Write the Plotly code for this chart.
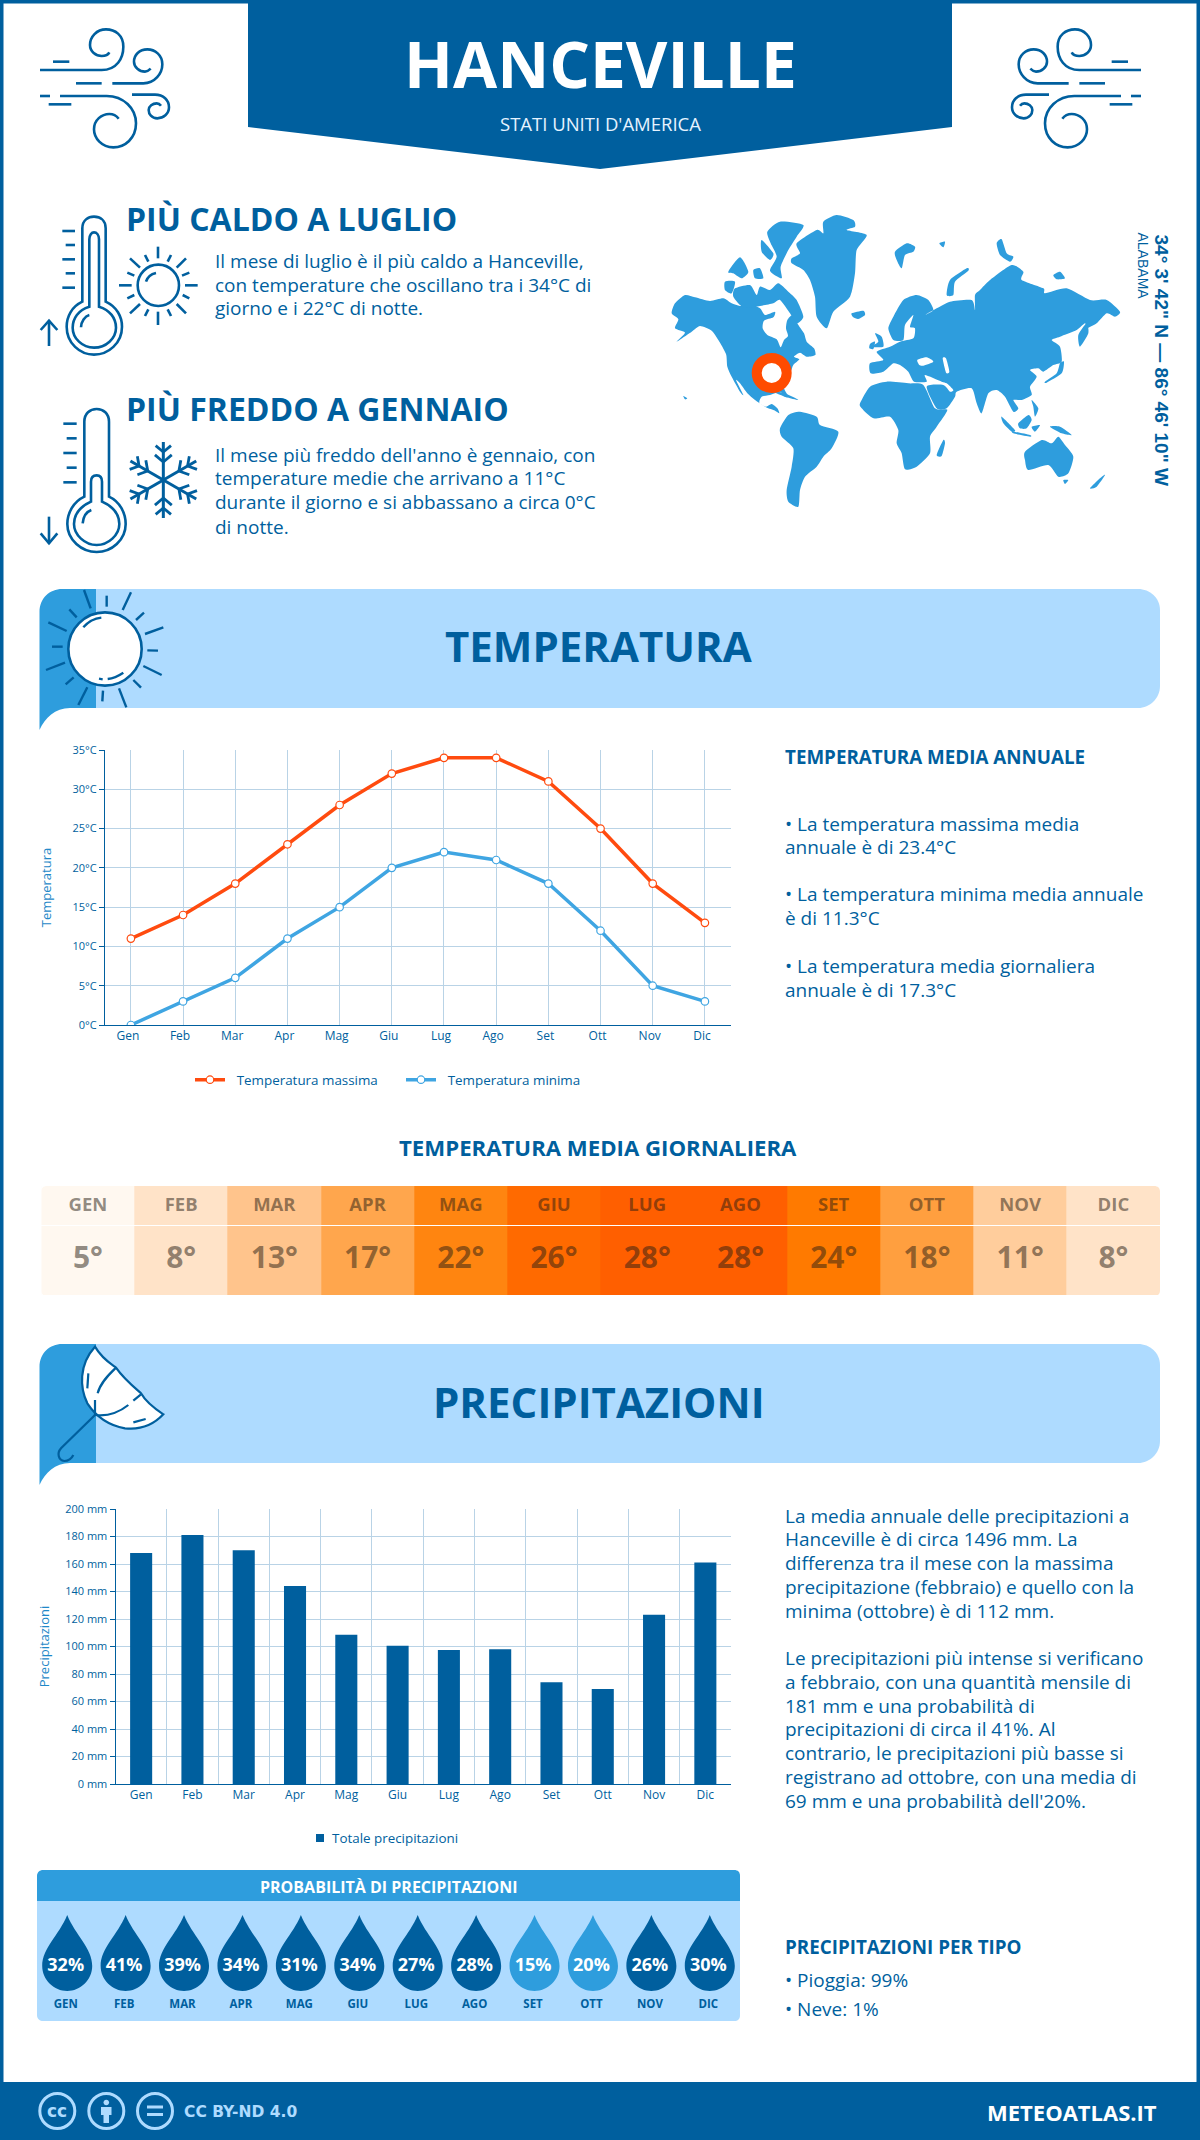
import math, re
import plotly.graph_objects as go

W, H = 1200, 2140
BLUE = "#005F9E"; MID = "#2E9DDD"; LIGHT = "#AEDBFF"; ORANGE = "#FF4B0F"; GRID = "#B9D3E6"

# ---------- data ----------
months = ["Gen","Feb","Mar","Apr","Mag","Giu","Lug","Ago","Set","Ott","Nov","Dic"]
months_up = ["GEN","FEB","MAR","APR","MAG","GIU","LUG","AGO","SET","OTT","NOV","DIC"]
temp_max = [11,14,18,23,28,32,34,34,31,25,18,13]
temp_min = [0,3,6,11,15,20,22,21,18,12,5,3]
temp_avg = [5,8,13,17,22,26,28,28,24,18,11,8]
precip = [168,181,170,144,108.5,100.5,97.5,98,74,69,123,161]
prob = [32,41,39,34,31,34,27,28,15,20,26,30]

FONT = "Open Sans"

def dom_x(l, r): return [l / W, r / W]
def dom_y(t, b): return [1 - b / H, 1 - t / H]

def tf(path, ox=0, oy=0, sx=1 / 3, sy=1 / 3):
    out, i = [], 0
    for tok in re.findall(r"[A-Za-z]|-?\d+\.?\d*", path):
        if tok.isalpha():
            out.append(tok); i = 0
        else:
            v = float(tok)
            out.append(f"{(ox + v * sx) if i % 2 == 0 else (oy + v * sy):.2f}")
            i += 1
    return " ".join(out)

def smooth(path, t=0.11):
    n = [float(v) for v in re.findall(r"-?\d+\.?\d*", path)]
    p = list(zip(n[0::2], n[1::2]))
    m = len(p)
    s = f"M{p[0][0]},{p[0][1]}"
    for i in range(m):
        p0, p1, p2, p3 = p[i - 1], p[i], p[(i + 1) % m], p[(i + 2) % m]
        s += (f" C{p1[0] + (p2[0]-p0[0])*t:.1f},{p1[1] + (p2[1]-p0[1])*t:.1f}"
              f" {p2[0] - (p3[0]-p1[0])*t:.1f},{p2[1] - (p3[1]-p1[1])*t:.1f} {p2[0]},{p2[1]}")
    return s + " Z"

shapes, annos = [], []

def S(path, fill=None, line=None, width=0, layer="below"):
    d = dict(type="path", path=path, xref="x", yref="y", layer=layer, line=dict(width=width, color=line or "rgba(0,0,0,0)"))
    if fill: d["fillcolor"] = fill
    shapes.append(d)

def T(x, y, text, size, bold=False, color=BLUE, anchor="left", rot=0, family=FONT):
    if anchor == "left": x -= 2.5
    if anchor == "right": x += 1
    if size >= 30: y -= 2.7
    annos.append(dict(x=x, y=y, xref="x", yref="y", text=text, showarrow=False, xanchor=anchor, yanchor="middle",
                      textangle=rot, align=anchor,
                      font=dict(family=family, size=size, color=color, weight=700 if bold else 400)))

def circle(cx, cy, r, ry=None):
    ry = ry or r; k = 0.5523
    return (f"M{cx-r},{cy} C{cx-r},{cy-k*ry} {cx-k*r},{cy-ry} {cx},{cy-ry} C{cx+k*r},{cy-ry} {cx+r},{cy-k*ry} {cx+r},{cy} "
            f"C{cx+r},{cy+k*ry} {cx+k*r},{cy+ry} {cx},{cy+ry} C{cx-k*r},{cy+ry} {cx-r},{cy+k*ry} {cx-r},{cy} Z")

# ---------- frame / header ----------
S(f"M0,0 L{W},0 L{W},3.5 L0,3.5 Z", fill=BLUE)
S(f"M0,0 L3.5,0 L3.5,{H} L0,{H} Z", fill=BLUE)
S(f"M{W-3.5},0 L{W},0 L{W},{H} L{W-3.5},{H} Z", fill=BLUE)
S(f"M0,2082 L{W},2082 L{W},{H} L0,{H} Z", fill=BLUE)
S("M248,0 L952,0 L952,127 L600,169 L248,127 Z", fill=BLUE)
T(600, 66, "HANCEVILLE", 64, True, "white", "center")
T(600, 123, "STATI UNITI D'AMERICA", 18.5, False, "#E6F3FF", "center")

WIND = ["M60,180 L245,180 C290,180 310,145 310,110 C310,75 285,58 258,58 C230,58 210,80 210,105 C210,125 228,138 245,138 C255,138 265,133 268,127",
        "M99,155 L148,155",
        "M277,220 L370,220 C405,220 427,190 427,163 C427,135 405,118 382,118 C358,118 342,135 342,155 C342,172 358,185 375,185 C382,185 388,180 392,176",
        "M168,220 L245,220",
        "M120,258 L260,258 C310,258 348,295 348,340 C348,385 315,412 280,412 C245,412 222,385 222,358 C222,330 245,312 268,312 C280,312 290,318 296,326",
        "M60,258 L90,258", "M86,283 L154,283",
        "M336,254 L405,254 C430,254 447,270 447,292 C447,312 430,325 412,325 C395,325 386,312 386,300 C386,288 398,280 410,280 C416,280 420,283 423,287"]
for p in WIND:
    S(tf(p, 20, 10), line=BLUE, width=2.6)
    S(tf(p, 1161, 10, -1 / 3, 1 / 3), line=BLUE, width=2.6)

# ---------- hot / cold ----------
T(126, 221, "PIÙ CALDO A LUGLIO", 32, True)
for y, t in zip([261.2, 284.7, 308.3], ["Il mese di luglio è il più caldo a Hanceville,", "con temperature che oscillano tra i 34°C di", "giorno e i 22°C di notte."]):
    T(215, y, t, 19)
T(126, 411, "PIÙ FREDDO A GENNAIO", 32, True)
for y, t in zip([455.3, 478.2, 502.3, 526.5], ["Il mese più freddo dell'anno è gennaio, con", "temperature medie che arrivano a 11°C", "durante il giorno e si abbassano a circa 0°C", "di notte."]):
    T(215, y, t, 19)

TH1 = ["M157,305 L157,85 C157,60 175,50 192,50 C210,50 227,60 227,85 L227,305 C260,320 276,350 276,380 C276,430 235,464 192,464 C150,464 110,430 110,380 C110,350 125,320 157,305 Z",
       "M178,320 L178,118 C178,105 185,97 192,97 C200,97 207,105 207,118 L207,320 C240,330 258,355 258,383 C258,415 228,443 192,443 C157,443 128,415 128,383 C128,355 145,330 178,320 Z",
       "M153,382 C153,365 165,348 178,345",
       "M97,93 L135,93", "M107,135 L135,135", "M97,178 L135,178", "M107,220 L135,220", "M97,263 L135,263",
       "M57,438 L57,362", "M32,390 L57,362 L82,390",
       "M348,245 C352,232 365,222 378,219",
       "M384,140 L384,175", "M300,175 L330,203", "M345,165 L355,185", "M423,165 L413,185", "M468,175 L440,203",
       "M292,218 L313,227", "M478,218 L456,227", "M267,256 L305,256", "M503,256 L465,256", "M292,295 L313,285",
       "M478,295 L458,285", "M300,340 L330,312", "M468,340 L440,312", "M345,348 L355,328", "M423,348 L413,328", "M384,375 L384,335"]
for p in TH1:
    S(tf(p, 30, 200), line=BLUE, width=2.6)
S(tf(circle(385, 256, 62), 30, 200), line=BLUE, width=2.6)

TH2 = ["M163,290 L163,65 C163,40 180,27 200,27 C220,27 237,40 237,65 L237,290 C270,305 287,340 287,372 C287,420 245,456 200,456 C155,456 112,420 112,372 C112,340 130,305 163,290 Z",
       "M183,305 L183,245 C183,232 190,226 200,226 C210,226 216,232 216,245 L216,305 C250,320 268,345 268,372 C268,405 235,435 200,435 C165,435 132,405 132,372 C132,345 150,320 183,305 Z",
       "M158,370 C160,350 170,335 184,330",
       "M100,71 L140,71", "M110,115 L140,115", "M100,159 L140,159", "M110,203 L140,203", "M100,247 L140,247",
       "M57,350 L57,430", "M32,400 L57,430 L82,400"]
for p in TH2:
    S(tf(p, 30, 400), line=BLUE, width=2.6)
# snowflake
cx, cy = 30 + 400 / 3, 400 + 240 / 3
for k in range(6):
    a = math.radians(90 + 60 * k)
    ux, uy = math.cos(a), -math.sin(a)
    S(f"M{cx:.2f},{cy:.2f} L{cx + 38*ux:.2f},{cy + 38*uy:.2f}", line=BLUE, width=3)
    for r0, r1 in [(18, 11), (28, 10)]:
        for sgn in (-1, 1):
            b = a + sgn * math.radians(50)
            x0, y0 = cx + r0 * ux, cy + r0 * uy
            S(f"M{x0:.2f},{y0:.2f} L{x0 + r1*math.cos(b):.2f},{y0 - r1*math.sin(b):.2f}", line=BLUE, width=2.8)

# ---------- world map (decorative) ----------
LAND = [
 "M35,340 L45,310 L75,285 L105,292 L150,303 L190,295 L215,310 L240,318 L270,312 L300,325 L315,345 L345,335 L340,352 L312,362 L308,385 L322,405 L350,418 L362,442 L372,420 L384,408 L378,385 L382,360 L398,345 L415,375 L432,400 L440,425 L462,445 L466,465 L440,470 L420,458 L402,470 L418,478 L400,495 L392,515 L375,545 L372,565 L385,590 L375,590 L360,575 L330,585 L305,590 L298,608 L318,620 L335,612 L352,625 L358,640 L345,632 L318,622 L285,600 L262,580 L240,550 L228,540 L250,585 L240,575 L215,530 L202,500 L198,462 L175,420 L155,392 L120,378 L95,395 L50,425 L75,398 L45,385 L55,358",
 "M322,95 L360,65 L430,75 L410,110 L385,150 L362,200 L365,235 L330,212 L350,170 L332,130",
 "M305,120 L340,160 L330,180 L305,155", "M205,215 L240,172 L265,215 L245,235 L220,220", "M195,245 L225,245 L215,280 L195,270",
 "M225,265 L270,255 L290,285 L300,260 L330,270 L355,250 L385,275 L410,300 L430,350 L410,370 L390,340 L360,300 L340,310 L300,318 L250,322 L220,290",
 "M280,210 L300,205 L310,235 L285,235",
 "M410,130 L470,90 L490,100 L490,65 L530,45 L580,60 L585,80 L560,90 L620,105 L590,150 L585,220 L570,290 L520,335 L500,385 L470,350 L465,290 L450,240 L430,210 L395,190 L395,175 L420,160",
 "M575,340 L610,332 L615,345 L595,357 L580,352",
 "M705,155 L740,130 L765,140 L760,155 L735,165 L725,205 L710,180",
 "M860,285 L870,240 L920,205 L925,212 L885,245 L880,285",
 "M1010,130 L1025,118 L1040,160 L1060,170 L1050,185 L1020,165", "M1180,225 L1200,215 L1215,235 L1190,238", "M838,130 L855,125 L850,142",
 "M685,385 L700,350 L730,300 L770,285 L805,300 L820,330 L795,345 L830,325 L870,305 L935,300 L945,330 L945,285 L960,270 L990,240 L1055,195 L1090,215 L1085,240 L1150,265 L1155,280 L1220,265 L1290,300 L1340,300 L1380,335 L1365,350 L1340,340 L1310,370 L1280,385 L1275,370 L1250,390 L1200,410 L1175,420 L1200,440 L1205,485 L1180,495 L1150,515 L1135,505 L1110,510 L1130,530 L1110,560 L1115,585 L1085,600 L1060,600 L1075,625 L1060,635 L1035,590 L1010,570 L985,580 L965,640 L950,610 L935,565 L890,575 L885,590 L860,625 L830,625 L800,560 L850,555 L870,575 L880,570 L860,550 L845,545 L795,525 L800,545 L762,545 L745,515 L720,495 L700,490 L670,515 L632,520 L630,490 L670,480 L650,455 L690,440 L720,425 L760,415 L765,385 L750,380 L760,345 L735,375 L730,420 L700,420",
 "M645,400 L665,410 L670,440 L635,440 L655,425", "M630,432 L645,425 L640,447 L628,445",
 "M1155,545 L1190,520 L1200,490 L1212,485 L1205,520 L1160,548", "M1255,405 L1280,370 L1285,400 L1260,440",
 "M1025,650 L1065,690 L1055,695 L1030,670", "M1060,695 L1110,705 L1110,710 L1060,700", "M1075,670 L1105,645 L1115,660 L1100,685 L1080,685",
 "M1115,680 L1140,675 L1125,695", "M1170,680 L1200,680 L1235,705 L1205,700", "M1115,600 L1135,625 L1125,650 L1120,620",
 "M1095,755 L1145,720 L1175,730 L1195,710 L1215,735 L1240,770 L1225,820 L1195,830 L1165,795 L1105,810 L1095,780",
 "M1210,840 L1225,840 L1215,852", "M1290,865 L1320,835 L1335,825 L1310,860", "M830,765 L850,720 L855,730 L845,768",
 "M600,610 L630,560 L680,545 L745,550 L790,555 L825,625 L862,630 L830,680 L810,710 L810,760 L770,800 L735,808 L725,760 L710,730 L715,690 L690,650 L640,655 L605,625",
 "M360,685 L385,645 L420,635 L470,650 L480,675 L535,695 L515,745 L490,770 L470,800 L435,830 L420,870 L415,920 L385,905 L380,870 L395,800 L400,745 L365,710",
 "M340,575 L375,580 L415,600 L380,592", "M70,588 L82,595 L75,598",
]
for p in LAND:
    S(tf(smooth(p), 660, 200), fill=MID)
for p in ["M772,480 L800,472 L820,485 L790,497 L778,495", "M848,475 L858,475 L868,515 L858,518"]:
    S(tf(smooth(p), 660, 200), fill="white")
S(circle(771.7, 373, 15), fill="white", line="#FF4B00", width=10)
T(1161.5, 360, "34° 3' 42\" N — 86° 46' 10\" W", 19, True, BLUE, "center", 90, "Liberation Sans")
T(1142.5, 266, "ALABAMA", 14, False, BLUE, "center", 90, "Liberation Sans")

# ---------- banners ----------
def banner(t, title, ty):
    b = t + 119
    S(f"M96,{t} L1138,{t} C1150,{t} 1160,{t+9} 1160,{t+21} L1160,{b-22} C1160,{b-10} 1150,{b} 1138,{b} L96,{b} Z", fill=LIGHT)
    S(f"M39.5,{b+22} L39.5,{t+23} C39.5,{t+9} 50,{t} 62,{t} L96,{t} L96,{b} L70,{b} C55,{b} 45,{b+10} 39.5,{b+22} Z", fill=MID)
    T(598.5, ty, title, 42, True, BLUE, "center")

banner(589, "TEMPERATURA", 648)
banner(1344, "PRECIPITAZIONI", 1404)

S(tf(circle(225, 207, 110), 30, 580), fill="white", line=BLUE, width=2.6)
for p in ["M160,142 C175,125 195,115 214,113", "M233,297 C250,295 265,288 280,278", "M207,296 L218,298",
          "M162,30 L182,85", "M230,47 L230,80", "M303,37 L278,90", "M118,88 L140,112", "M342,98 L318,120", "M55,127 L110,153",
          "M400,142 L345,162", "M66,200 L98,200", "M352,211 L384,212", "M48,270 L105,248", "M340,258 L395,285",
          "M107,313 L131,292", "M310,300 L333,323", "M172,322 L145,375", "M219,332 L217,364", "M267,325 L289,382"]:
    S(tf(p, 30, 580), line=BLUE, width=2.4)

S(tf("M195,35 C215,70 240,85 258,98 C280,130 310,155 333,175 C350,205 380,225 400,238 C370,270 330,285 285,280 C230,270 195,240 172,205 C150,160 145,90 195,35 Z", 30, 1335), fill="white", line=BLUE, width=2.2)
for p in ["M195,240 C240,245 270,230 295,210", "M310,197 L333,178", "M195,240 L195,195", "M203,175 C210,145 235,120 258,98",
          "M175,115 L172,160", "M310,262 L347,252", "M195,240 L93,340 C80,355 85,375 103,378 C115,378 125,370 130,360"]:
    S(tf(p, 30, 1335), line=BLUE, width=2.2)

# ---------- side texts ----------
T(785, 757, "TEMPERATURA MEDIA ANNUALE", 18.8, True)
for y, t in zip([824.2, 846.8, 894.2, 918.2, 965.7, 989.7],
                ["• La temperatura massima media", "annuale è di 23.4°C", "• La temperatura minima media annuale", "è di 11.3°C",
                 "• La temperatura media giornaliera", "annuale è di 17.3°C"]):
    T(785, y, t, 19)
T(598, 1147, "TEMPERATURA MEDIA GIORNALIERA", 22.2, True, BLUE, "center")
for y, t in zip([1515.5, 1538.5, 1562.5, 1586.5, 1610.5, 1657.5, 1681.5, 1705.5, 1729, 1753, 1777, 1800.5],
                ["La media annuale delle precipitazioni a", "Hanceville è di circa 1496 mm. La", "differenza tra il mese con la massima",
                 "precipitazione (febbraio) e quello con la", "minima (ottobre) è di 112 mm.",
                 "Le precipitazioni più intense si verificano", "a febbraio, con una quantità mensile di", "181 mm e una probabilità di",
                 "precipitazioni di circa il 41%. Al", "contrario, le precipitazioni più basse si", "registrano ad ottobre, con una media di",
                 "69 mm e una probabilità dell'20%."]):
    T(785, y, t, 19)
T(785, 1947, "PRECIPITAZIONI PER TIPO", 18.8, True)
T(785, 1980, "• Pioggia: 99%", 19)
T(785, 2009, "• Neve: 1%", 19)

# ---------- probability panel ----------
S("M37,1901 L37,1876 C37,1872 40,1870 43,1870 L734,1870 C738,1870 740,1872 740,1876 L740,1901 Z", fill=MID)
S("M37,1901 L740,1901 L740,2015 C740,2019 738,2021 734,2021 L43,2021 C40,2021 37,2019 37,2015 Z", fill=LIGHT)
T(389, 1887, "PROBABILITÀ DI PRECIPITAZIONI", 16, True, "white", "center")
PL, PR = 38, 739
step = (PR - PL) / 12
for i, v in enumerate(prob):
    c = PL + (i + .5) * step
    S(f"M{c},1915 C{c+8},1935 {c+25},1948 {c+25},1966 C{c+25},1980 {c+13},1991 {c},1991 C{c-13},1991 {c-25},1980 {c-25},1966 C{c-25},1948 {c-8},1935 {c},1915 Z",
      fill=MID if v <= 20 else BLUE)

# ---------- footer ----------
for c in (57.3, 106.3, 155):
    S(circle(c, 2111, 17.5), line=LIGHT, width=3)
T(57.3, 2111, "cc", 17, True, LIGHT, "center", 0, "DejaVu Sans")
S(circle(106.3, 2102.5, 2.8), fill=LIGHT)
S("M101,2107 L111.5,2107 L111.5,2115 L109,2115 L109,2123 L103.5,2123 L103.5,2115 L101,2115 Z", fill=LIGHT)
S("M147,2105.5 L163,2105.5 L163,2108.5 L147,2108.5 Z", fill=LIGHT)
S("M147,2113 L163,2113 L163,2116 L147,2116 Z", fill=LIGHT)
T(184.5, 2111.5, "CC BY-ND 4.0", 15.5, True, LIGHT, "left", 0, "DejaVu Sans")
T(1158, 2112, "METEOATLAS.IT", 22, True, "white", "right")

# ---------- precipitation legend ----------
S("M316,1834 L324,1834 L324,1842 L316,1842 Z", fill=BLUE)
T(332, 1838, "Totale precipitazioni", 13.4)

# ---------- table corner masks ----------
TL, TR, TT, TB, RD = 41.3, 1160, 1186, 1296, 6
for x0, y0, dx, dy in [(TL, TT, 1, 1), (TR, TT, -1, 1), (TL, TB, 1, -1), (TR, TB, -1, -1)]:
    S(f"M{x0},{y0} L{x0+dx*RD},{y0} C{x0+dx*2},{y0} {x0},{y0+dy*2} {x0},{y0+dy*RD} Z", fill="white", layer="above")

fig = go.Figure()
fig.add_trace(go.Scatter(x=[], y=[], xaxis="x", yaxis="y", showlegend=False, hoverinfo="skip"))

# temperature chart
fig.add_trace(go.Scatter(x=months, y=temp_max, name="\u2002Temperatura massima", xaxis="x2", yaxis="y2", mode="lines+markers",
                         line=dict(color=ORANGE, width=3.5), marker=dict(size=7.5, color="white", line=dict(color=ORANGE, width=1.2))))
fig.add_trace(go.Scatter(x=months, y=temp_min, name="\u2002Temperatura minima", xaxis="x2", yaxis="y2", mode="lines+markers",
                         line=dict(color="#3FA5E2", width=3.5), marker=dict(size=7.5, color="white", line=dict(color="#3FA5E2", width=1.2))))
# precipitation chart
fig.add_trace(go.Bar(x=months, y=precip, name="Totale precipitazioni", xaxis="x3", yaxis="y3", marker=dict(color=BLUE, line=dict(width=0)), showlegend=False))
# daily mean temperature table
stops = [(5, "#FFF8F0"), (8, "#FFE3C8"), (11, "#FFCD9C"), (13, "#FFC48C"), (17, "#FFA64D"), (18, "#FF9F3F"), (22, "#FF8510"), (24, "#FF7A00"), (26, "#FF6A00"), (28, "#FF5F00")]
cs = [[(v - 5) / 23, c] for v, c in stops]
fig.add_trace(go.Heatmap(x=months_up, y=[0, 39.5, 110], z=[temp_avg, temp_avg], zmin=5, zmax=28, colorscale=cs, showscale=False,
                         xaxis="x4", yaxis="y4", ygap=1, hoverinfo="skip"))
fig.add_trace(go.Scatter(x=months_up, y=[20] * 12, text=months_up, mode="text", xaxis="x4", yaxis="y4", showlegend=False,
                         textfont=dict(family=FONT, size=18.5, weight=700, color="rgba(40,30,20,0.52)"), hoverinfo="skip"))
fig.add_trace(go.Scatter(x=months_up, y=[74] * 12, text=[f"{v}°" for v in temp_avg], mode="text", xaxis="x4", yaxis="y4", showlegend=False,
                         textfont=dict(family=FONT, size=30, weight=700, color="rgba(40,30,20,0.52)"), hoverinfo="skip"))
# probability drops text
fig.add_trace(go.Scatter(x=months_up, y=[1966.7] * 12, text=[f"{v}%" for v in prob], mode="text", xaxis="x5", yaxis="y5", showlegend=False,
                         textfont=dict(family=FONT, size=18, weight=700, color="white"), hoverinfo="skip"))
fig.add_trace(go.Scatter(x=months_up, y=[2004.7] * 12, text=months_up, mode="text", xaxis="x5", yaxis="y5", showlegend=False,
                         textfont=dict(family=FONT, size=11.5, weight=700, color=BLUE), hoverinfo="skip"))

tick = dict(family=FONT, size=11, color=BLUE)
hidden = dict(visible=False, showgrid=False, zeroline=False)
TITLEC = "#1E88C8"
fig.update_layout(
    width=W, height=H, margin=dict(l=0, r=0, t=0, b=0, autoexpand=False), paper_bgcolor="white", plot_bgcolor="rgba(0,0,0,0)",
    shapes=shapes, annotations=annos, font=dict(family=FONT, color=BLUE),
    xaxis=dict(domain=[0, 1], range=[0, W], **hidden),
    yaxis=dict(domain=[0, 1], range=[H, 0], **hidden),
    xaxis2=dict(domain=dom_x(104.8, 731), anchor="y2", type="category", range=[-0.5, 11.5], showgrid=True, gridcolor=GRID, gridwidth=1,
                showline=True, linecolor=BLUE, linewidth=1, ticks="", ticklabelshift=-3, tickfont=dict(family=FONT, size=12, color=BLUE)),
    yaxis2=dict(domain=dom_y(750, 1025), anchor="x2", range=[0, 35], dtick=5, ticksuffix="°C", showgrid=True, gridcolor=GRID, gridwidth=1,
                showline=True, linecolor=BLUE, linewidth=1, ticks="outside", ticklen=5, tickcolor=BLUE, tickfont=tick, zeroline=False,
                title=dict(text="Temperatura", standoff=17, font=dict(family=FONT, size=13, color=TITLEC))),
    xaxis3=dict(domain=dom_x(115.5, 731), anchor="y3", type="category", range=[-0.5, 11.5], tickson="boundaries", showgrid=True, gridcolor=GRID, gridwidth=1,
                showline=True, linecolor=BLUE, linewidth=1, ticks="", tickfont=dict(family=FONT, size=12, color=BLUE)),
    yaxis3=dict(domain=dom_y(1509, 1784), anchor="x3", range=[0, 200], dtick=20, ticksuffix=" mm", showgrid=True, gridcolor=GRID, gridwidth=1,
                showline=True, linecolor=BLUE, linewidth=1, ticks="outside", ticklen=5, tickcolor=BLUE, tickfont=tick, zeroline=False,
                title=dict(text="Precipitazioni", standoff=12, font=dict(family=FONT, size=13, color=TITLEC))),
    xaxis4=dict(domain=dom_x(TL, TR), anchor="y4", type="category", range=[-0.5, 11.5], **hidden),
    yaxis4=dict(domain=dom_y(TT, TB), anchor="x4", range=[110, 0], **hidden),
    xaxis5=dict(domain=dom_x(PL - 1.5, PR - 1.5), anchor="y5", type="category", range=[-0.5, 11.5], **hidden),
    yaxis5=dict(domain=dom_y(1901, 2021), anchor="x5", range=[2021, 1901], **hidden),
    bargap=0.57,
    legend=dict(orientation="h", x=190 / W, y=1 - 1080 / H, xanchor="left", yanchor="middle", font=dict(family=FONT, size=13.4, color=BLUE),
                bgcolor="rgba(0,0,0,0)", entrywidth=166, entrywidthmode="pixels"),
)
fig.write_html("out.html", config=dict(displayModeBar=False),
               post_script="document.body.style.margin='0';document.documentElement.style.overflow='hidden';")
